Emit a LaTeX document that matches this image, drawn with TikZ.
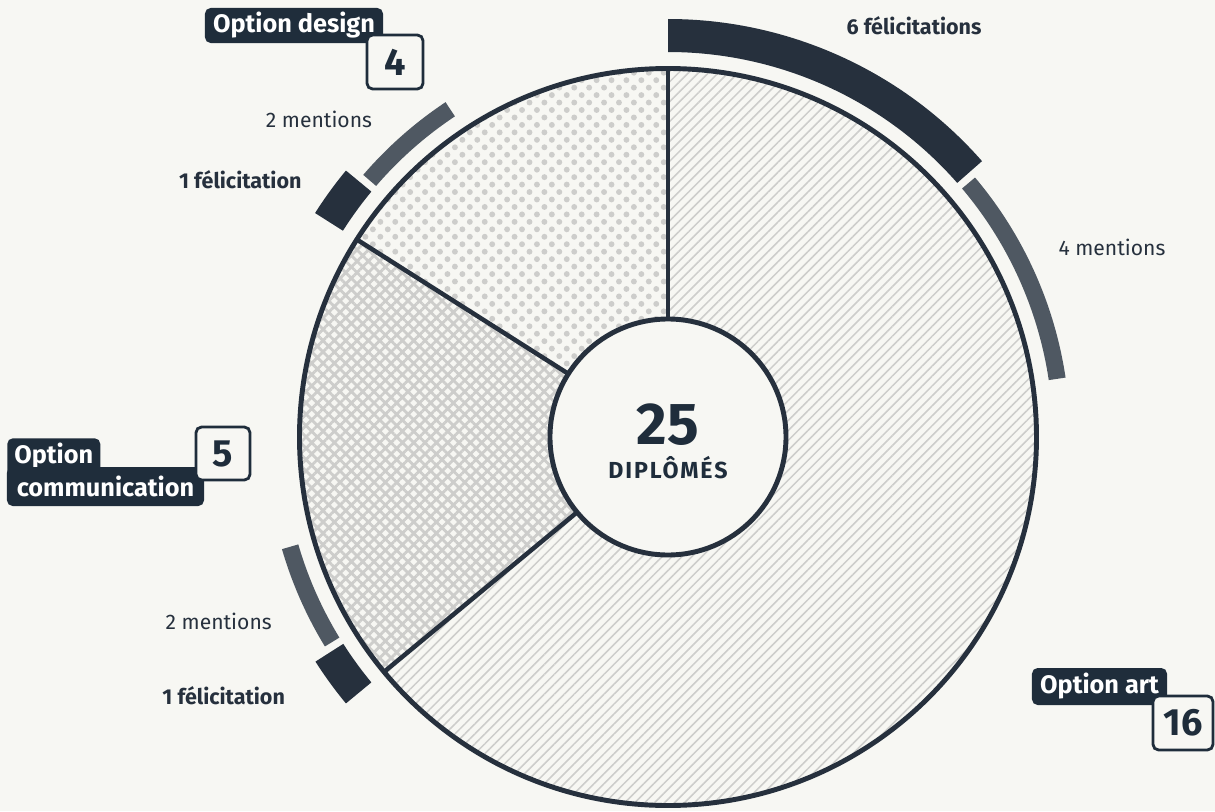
\documentclass[tikz,border=0pt]{standalone}
\usepackage{fontspec}
\setmainfont{Fira Sans}
\usepackage{tikz}
\usetikzlibrary{patterns.meta}
\definecolor{paper}{HTML}{F7F7F3}
\definecolor{ink}{HTML}{26303D}
\definecolor{tag}{HTML}{1F2D3B}
\definecolor{slate}{HTML}{4F5862}
\definecolor{hatch}{HTML}{CDCDCB}
\tikzstyle{label-box} = [rectangle, rounded corners=4pt, 
fill=tag, 
text=white, 
inner sep=0pt, 
font=\fontsize{18}{20}\selectfont\bfseries]
\tikzstyle{count-box} = [rectangle, rounded corners=4pt, 
draw=tag, line width=2pt, 
fill=paper, 
text=tag, 
inner sep=0pt, 
font=\fontsize{27}{27}\selectfont\bfseries]
\tikzstyle{note} = [text=ink, font=\fontsize{15}{18}\selectfont]
\tikzstyle{note-bold} = [text=ink, font=\fontsize{15.3}{18}\selectfont\bfseries]
\tikzstyle{ring} = [draw=ink, line width=3.5pt]
\tikzstyle{spoke} = [draw=ink, line width=3.2pt]
\tikzstyle{felicitation-bar} = [fill=ink]
\tikzstyle{mention-bar} = [fill=slate]

\begin{document}
\begin{tikzpicture}[x=0.025cm, y=0.025cm]
            \useasboundingbox (-668,-374) rectangle (547,437);
            \fill[paper] (-668,-374) rectangle (547,437);

            \fill[pattern={Lines[distance=5pt, angle=45, line width=1.1pt]}, pattern color=hatch] (0,0) -- (90:368.5) arc[start angle=90, end angle=-140.4, radius=368.5] -- cycle;
            \fill[pattern={Hatch[distance=5.7pt, angle=45, line width=2pt]}, pattern color=hatch] (0,0) -- (219.6:368.5) arc[start angle=219.6, end angle=147.6, radius=368.5] -- cycle;
            \fill[pattern={Dots[distance=7.5pt, angle=45, radius=2.1pt]}, pattern color=hatch] (0,0) -- (147.6:368.5) arc[start angle=147.6, end angle=90, radius=368.5] -- cycle;

            \draw[spoke] (90:118) -- (90:368.5);
            \draw[spoke] (219.6:118) -- (219.6:368.5);
            \draw[spoke] (147.6:118) -- (147.6:368.5);
            \draw[ring] (0,0) circle[radius=368.5];
            \filldraw[ring, fill=paper] (0,0) circle[radius=118];

            \fill[felicitation-bar] (41.3:385) arc[start angle=41.3, end angle=90, radius=385] -- (90:418) arc[start angle=90, end angle=41.3, radius=418] -- cycle;
            \fill[mention-bar] (8.5:385) arc[start angle=8.5, end angle=40.2, radius=385] -- (40.2:402) arc[start angle=40.2, end angle=8.5, radius=402] -- cycle;
            \fill[felicitation-bar] (140.4:385) arc[start angle=140.4, end angle=147.6, radius=385] -- (147.6:418) arc[start angle=147.6, end angle=140.4, radius=418] -- cycle;
            \fill[mention-bar] (123.6:385) arc[start angle=123.6, end angle=139.3, radius=385] -- (139.3:402) arc[start angle=139.3, end angle=123.6, radius=402] -- cycle;
            \fill[felicitation-bar] (212.5:385) arc[start angle=212.5, end angle=219.6, radius=385] -- (219.6:418) arc[start angle=219.6, end angle=212.5, radius=418] -- cycle;
            \fill[mention-bar] (196.2:385) arc[start angle=196.2, end angle=211.4, radius=385] -- (211.4:402) arc[start angle=211.4, end angle=196.2, radius=402] -- cycle;

            \node (total) [text=tag, font=\fontsize{42}{42}\selectfont\bfseries] at (0,12) {25};
            \node (total-caption) [text=tag, font=\fontsize{16.5}{18}\selectfont\bfseries\addfontfeature{LetterSpace=8}] at (0,-31) {DIPLÔMÉS};

            \node (art-felicitations) [note-bold] at (246,411.5) {6 félicitations};
            \node (art-mentions) [note] at (444,189.5) {4 mentions};
            \node (design-mentions) [note] at (-349,318) {2 mentions};
            \node (design-felicitations) [note-bold] at (-427.7,257.5) {1 félicitation};
            \node (communication-mentions) [note] at (-449.3,-184.3) {2 mentions};
            \node (communication-felicitations) [note-bold] at (-444.3,-258.8) {1 félicitation};

            \node (design-label) [label-box, minimum width=4.45cm, minimum height=0.875cm] at (-374,411.5) {Option design};
            \node (design-count) [count-box, minimum width=1.4cm, minimum height=1.35cm] at (-273,375) {4};
            \node (communication-label-top) [label-box, anchor=north west, minimum width=2.325cm, text height=0.633cm, text depth=0.79cm] at (-661,-1) {Option};
            \node (communication-label) [label-box, minimum width=4.925cm, minimum height=0.975cm] at (-562.5,-49.5) {communication};
            \node (communication-count) [count-box, minimum width=1.35cm, minimum height=1.325cm] at (-445,-16.5) {5};
            \node (art-label) [label-box, minimum width=3.375cm, minimum height=0.925cm] at (431.5,-249.5) {Option art};
            \node (art-count) [count-box, minimum width=1.5cm, minimum height=1.35cm] at (515,-286) {16};
        \end{tikzpicture}
\end{document}
